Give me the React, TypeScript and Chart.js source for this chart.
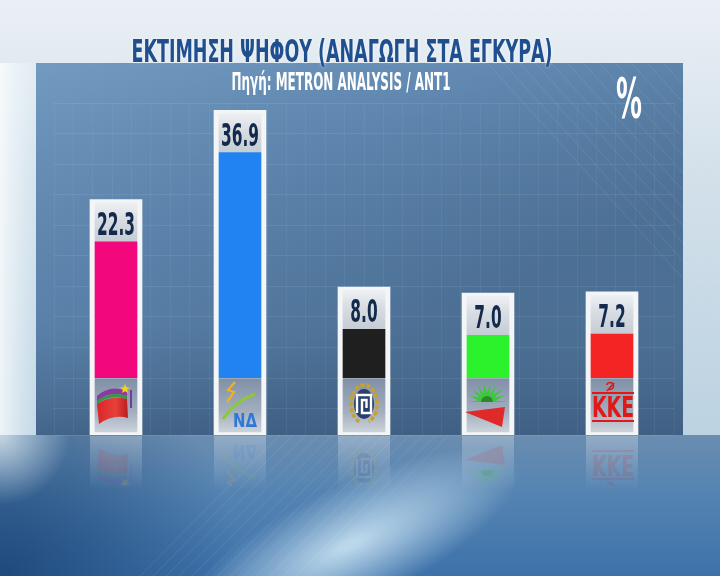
import React, { useEffect, useRef } from "react";
import { Chart, registerables } from "chart.js";

Chart.register(...registerables);

// ---------- data ----------
const parties = ["ΣΥΡΙΖΑ", "ΝΔ", "ΧΑ", "ΠΑΣΟΚ", "ΚΚΕ"];
const votes = [22.3, 36.9, 8.0, 7.0, 7.2];
const barColors = ["#f2077c", "#2183f2", "#1f1f1f", "#2cf22c", "#f42424"];
const titleText = "ΕΚΤΙΜΗΣΗ ΨΗΦΟΥ (ΑΝΑΓΩΓΗ ΣΤΑ ΕΓΚΥΡΑ)";
const subtitleText = "Πηγή: METRON ANALYSIS / ANT1";
const unitText = "%";

// ---------- layout constants ----------
const W = 720;
const H = 576;
const LABEL_ROOM = 6.9; // value units above each bar for its label
const LOGO_ROOM = 9.3; // value units below zero for the party logo
const Y_MAX = 45;
const PANEL = { l: 36, t: 63, r: 683, b: 435 };
const COND = "'Liberation Sans Narrow', 'DejaVu Sans Condensed', 'Roboto Condensed', 'Roboto', sans-serif";

function fitText(ctx: CanvasRenderingContext2D, text: string, cx: number, base: number, targetW: number, px: number, color: string, weight = "bold") {
  ctx.save();
  ctx.font = `${weight} ${px}px ${COND}`;
  const w = ctx.measureText(text).width;
  const s = targetW / w;
  ctx.translate(cx, base);
  ctx.scale(s, 1);
  ctx.fillStyle = color;
  ctx.textAlign = "center";
  ctx.textBaseline = "alphabetic";
  ctx.fillText(text, 0, 0);
  ctx.restore();
}

function star(ctx: CanvasRenderingContext2D, x: number, y: number, r: number) {
  ctx.beginPath();
  for (let k = 0; k < 10; k++) {
    const a = -Math.PI / 2 + (k * Math.PI) / 5;
    const rr = k % 2 === 0 ? r : r * 0.45;
    const px = x + Math.cos(a) * rr;
    const py = y + Math.sin(a) * rr;
    if (k === 0) ctx.moveTo(px, py);
    else ctx.lineTo(px, py);
  }
  ctx.closePath();
  ctx.fill();
}

function drawLogo(ctx: CanvasRenderingContext2D, i: number, cx: number) {
  ctx.save();
  if (i === 0) {
    // SYRIZA
    ctx.fillStyle = "#8a3aa0";
    ctx.beginPath();
    ctx.moveTo(cx - 19, 396);
    ctx.quadraticCurveTo(cx - 6, 384, cx + 11, 391);
    ctx.lineTo(cx + 11, 396);
    ctx.quadraticCurveTo(cx - 6, 390, cx - 19, 401);
    ctx.closePath();
    ctx.fill();
    ctx.fillStyle = "#2f9a4a";
    ctx.beginPath();
    ctx.moveTo(cx - 19, 401);
    ctx.quadraticCurveTo(cx - 6, 390, cx + 11, 396);
    ctx.lineTo(cx + 11, 399);
    ctx.quadraticCurveTo(cx - 6, 394, cx - 19, 404);
    ctx.closePath();
    ctx.fill();
    const g = ctx.createLinearGradient(cx - 19, 0, cx + 12, 0);
    g.addColorStop(0, "#d8262a");
    g.addColorStop(0.6, "#e8403a");
    g.addColorStop(1, "#b81e22");
    ctx.fillStyle = g;
    ctx.beginPath();
    ctx.moveTo(cx - 19, 404);
    ctx.quadraticCurveTo(cx - 6, 395, cx + 11, 399);
    ctx.lineTo(cx + 12, 418);
    ctx.quadraticCurveTo(cx - 3, 414, cx - 17, 424);
    ctx.closePath();
    ctx.fill();
    ctx.fillStyle = "#f4d21c";
    star(ctx, cx + 9, 389, 5);
    ctx.fillStyle = "#7a3a9a";
    ctx.fillRect(cx + 14, 390, 2, 18);
  } else if (i === 1) {
    // ND
    ctx.strokeStyle = "#f0b020";
    ctx.lineWidth = 2.2;
    ctx.beginPath();
    ctx.moveTo(cx - 5, 382);
    ctx.lineTo(cx - 12, 390);
    ctx.lineTo(cx - 6, 392);
    ctx.lineTo(cx - 13, 402);
    ctx.stroke();
    ctx.strokeStyle = "#8cc83c";
    ctx.lineWidth = 3;
    ctx.beginPath();
    ctx.moveTo(cx - 17, 419);
    ctx.quadraticCurveTo(cx - 5, 401, cx + 15, 394);
    ctx.stroke();
    fitText(ctx, "ΝΔ", cx + 5, 427, 24, 20, "#2f78d8");
  } else if (i === 2) {
    // Golden Dawn
    ctx.strokeStyle = "#c9a227";
    ctx.lineWidth = 3.5;
    ctx.setLineDash([4, 2]);
    ctx.beginPath();
    ctx.ellipse(cx, 404, 13, 19, 0, Math.PI * 0.62, Math.PI * 2.38);
    ctx.stroke();
    ctx.setLineDash([]);
    ctx.fillStyle = "#2a3f6a";
    ctx.beginPath();
    ctx.ellipse(cx, 404, 10, 15, 0, 0, Math.PI * 2);
    ctx.fill();
    ctx.strokeStyle = "#ffffff";
    ctx.lineWidth = 2.4;
    ctx.beginPath();
    ctx.moveTo(cx - 7, 413);
    ctx.lineTo(cx - 7, 395);
    ctx.lineTo(cx + 7, 395);
    ctx.lineTo(cx + 7, 413);
    ctx.lineTo(cx - 2, 413);
    ctx.lineTo(cx - 2, 400);
    ctx.lineTo(cx + 2.5, 400);
    ctx.lineTo(cx + 2.5, 408);
    ctx.stroke();
  } else if (i === 3) {
    // PASOK
    ctx.fillStyle = "#3cc83a";
    ctx.beginPath();
    const bx = cx - 1;
    const by = 402;
    const n = 9;
    for (let k = 0; k <= n * 2; k++) {
      const a = Math.PI + (k * Math.PI) / (n * 2);
      const r = k % 2 === 0 ? 19 : 9;
      const px = bx + Math.cos(a) * r;
      const py = by + Math.sin(a) * r;
      if (k === 0) ctx.moveTo(px, py);
      else ctx.lineTo(px, py);
    }
    ctx.closePath();
    ctx.fill();
    ctx.fillStyle = "#2a8a2a";
    ctx.beginPath();
    ctx.arc(bx, by, 6, Math.PI, 0);
    ctx.fill();
    ctx.fillStyle = "#e02a2a";
    ctx.beginPath();
    ctx.moveTo(cx - 23, 412);
    ctx.lineTo(cx + 17, 407);
    ctx.lineTo(cx + 14, 427);
    ctx.closePath();
    ctx.fill();
  } else {
    // KKE
    ctx.strokeStyle = "#e01818";
    ctx.lineWidth = 1.6;
    ctx.beginPath();
    ctx.arc(cx - 2, 386, 3.5, Math.PI * 1.1, Math.PI * 2.6);
    ctx.stroke();
    ctx.beginPath();
    ctx.moveTo(cx - 5, 391);
    ctx.lineTo(cx + 2, 383);
    ctx.stroke();
    ctx.fillStyle = "#e01818";
    ctx.fillRect(cx - 20, 392, 42, 2);
    fitText(ctx, "ΚΚΕ", cx + 1, 417, 42, 28, "#e01818");
    ctx.fillRect(cx - 20, 420, 42, 2);
  }
  ctx.restore();
}

const bgPlugin = {
  id: "bg",
  beforeDraw(chart: any) {
    const ctx: CanvasRenderingContext2D = chart.ctx;
    ctx.save();
    // sky / outer
    let g = ctx.createLinearGradient(0, 0, 0, PANEL.b);
    g.addColorStop(0, "#eaf0f5");
    g.addColorStop(0.4, "#d3e0ea");
    g.addColorStop(1, "#bcd2e2");
    ctx.fillStyle = g;
    ctx.fillRect(0, 0, W, PANEL.b);
    // left glow
    g = ctx.createLinearGradient(0, 0, PANEL.l, 0);
    g.addColorStop(0, "rgba(255,255,255,0.75)");
    g.addColorStop(1, "rgba(230,245,250,0.2)");
    ctx.fillStyle = g;
    ctx.fillRect(0, PANEL.t, PANEL.l, PANEL.b - PANEL.t);
    // floor
    g = ctx.createLinearGradient(0, PANEL.b, 0, H);
    g.addColorStop(0, "#6a8db0");
    g.addColorStop(0.4, "#5584b2");
    g.addColorStop(1, "#3d72aa");
    ctx.fillStyle = g;
    ctx.fillRect(0, PANEL.b, W, H - PANEL.b);
    // floor: dark bottom-left
    let rg = ctx.createRadialGradient(0, 576, 10, 0, 576, 240);
    rg.addColorStop(0, "rgba(25,65,115,0.8)");
    rg.addColorStop(1, "rgba(25,65,115,0)");
    ctx.fillStyle = rg;
    ctx.fillRect(0, PANEL.b, W, H - PANEL.b);
    // floor: light glow centre-bottom
    ctx.save();
    ctx.translate(350, 545);
    ctx.rotate(-0.45);
    ctx.scale(2.2, 0.7);
    rg = ctx.createRadialGradient(0, 0, 5, 0, 0, 85);
    rg.addColorStop(0, "rgba(215,238,250,0.8)");
    rg.addColorStop(1, "rgba(215,238,250,0)");
    ctx.fillStyle = rg;
    ctx.fillRect(-200, -150, 400, 300);
    ctx.restore();
    // floor left glow below panel edge
    rg = ctx.createRadialGradient(0, PANEL.b, 5, 0, PANEL.b, 70);
    rg.addColorStop(0, "rgba(235,248,252,0.7)");
    rg.addColorStop(1, "rgba(235,248,252,0)");
    ctx.fillStyle = rg;
    ctx.fillRect(0, PANEL.b, 80, 80);

    // panel
    g = ctx.createLinearGradient(PANEL.l, PANEL.t, PANEL.l + 200, PANEL.b);
    g.addColorStop(0, "#7198bd");
    g.addColorStop(0.5, "#5b83ab");
    g.addColorStop(1, "#4c6f94");
    ctx.fillStyle = g;
    ctx.fillRect(PANEL.l, PANEL.t, PANEL.r - PANEL.l, PANEL.b - PANEL.t);
    g = ctx.createLinearGradient(0, PANEL.t, 0, PANEL.b);
    g.addColorStop(0, "rgba(120,160,200,0.25)");
    g.addColorStop(0.7, "rgba(60,95,135,0)");
    g.addColorStop(1, "rgba(40,65,100,0.35)");
    ctx.fillStyle = g;
    ctx.fillRect(PANEL.l, PANEL.t, PANEL.r - PANEL.l, PANEL.b - PANEL.t);

    // diagonal streaks
    ctx.strokeStyle = "rgba(255,255,255,0.09)";
    ctx.lineWidth = 1;
    for (let k = 0; k < 14; k++) {
      const x0 = 430 + k * 16;
      ctx.beginPath();
      ctx.moveTo(x0, 0);
      ctx.lineTo(x0 + 300, 330);
      ctx.stroke();
    }
    for (let k = 0; k < 14; k++) {
      const x0 = 140 + k * 13;
      ctx.beginPath();
      ctx.moveTo(x0 + 140, PANEL.b);
      ctx.lineTo(x0, H);
      ctx.stroke();
    }
    ctx.restore();
  },
};

const overlayPlugin = {
  id: "overlay",
  afterDatasetsDraw(chart: any) {
    const ctx: CanvasRenderingContext2D = chart.ctx;
    const y = chart.scales.y;
    const boxMeta = chart.getDatasetMeta(0);
    const valMeta = chart.getDatasetMeta(3);
    ctx.save();
    // reflections
    boxMeta.data.forEach((el: any, i: number) => {
      const x = el.x;
      const g = ctx.createLinearGradient(0, PANEL.b, 0, PANEL.b + 55);
      g.addColorStop(0, "rgba(255,255,255,0.28)");
      g.addColorStop(1, "rgba(255,255,255,0)");
      ctx.fillStyle = g;
      ctx.fillRect(x - 26, PANEL.b + 1, 52, 55);
      ctx.save();
      ctx.beginPath();
      ctx.rect(x - 26, PANEL.b + 1, 52, 50);
      ctx.clip();
      ctx.globalAlpha = 0.13;
      ctx.translate(0, PANEL.b * 2 + 2);
      ctx.scale(1, -1);
      drawLogo(ctx, i, x);
      ctx.restore();
    });
    // value labels + logos
    ctx.font = `bold 32px ${COND}`;
    const scaleX = 38 / ctx.measureText("22.3").width;
    valMeta.data.forEach((el: any, i: number) => {
      const top = y.getPixelForValue(votes[i]);
      const txt = votes[i].toFixed(1);
      ctx.save();
      ctx.font = `bold 32px ${COND}`;
      ctx.translate(el.x, top - 7);
      ctx.scale(scaleX, 1);
      ctx.fillStyle = "#142a4c";
      ctx.textAlign = "center";
      ctx.fillText(txt, 0, 0);
      ctx.restore();
      drawLogo(ctx, i, el.x);
    });
    // titles
    ctx.save();
    ctx.shadowColor = "rgba(255,255,255,0.7)";
    ctx.shadowBlur = 3;
    fitText(ctx, titleText, 342, 62, 421, 32, "#1f4f8f");
    ctx.restore();
    fitText(ctx, subtitleText, 341, 90, 219, 25, "#ffffff");
    fitText(ctx, unitText, 629, 117, 26, 55, "#ffffff");
    ctx.restore();
  },
};

function safeGrad(ctx: CanvasRenderingContext2D, t: number, b: number, stops: [number, string][], fallback: string) {
  if (!Number.isFinite(t) || !Number.isFinite(b)) return fallback;
  const g = ctx.createLinearGradient(0, t, 0, b);
  stops.forEach(([o, c]) => g.addColorStop(o, c));
  return g;
}

export default function App() {
  const ref = useRef<HTMLCanvasElement | null>(null);
  useEffect(() => {
    document.body.style.margin = "0";
    const canvas = ref.current;
    if (!canvas) return;
    const labelGrad = (c: any) => {
      const chart = c.chart;
      const ys = chart.scales?.y;
      if (!ys || c.type !== "data" || c.dataIndex === undefined) return "#d9dde2";
      const v = votes[c.dataIndex];
      return safeGrad(
        chart.ctx,
        ys.getPixelForValue(v + LABEL_ROOM),
        ys.getPixelForValue(v),
        [
          [0, "#f2f4f6"],
          [0.5, "#d7dce2"],
          [1, "#c6ccd4"],
        ],
        "#d9dde2"
      );
    };
    const logoGrad = (c: any) => {
      const chart = c.chart;
      const ys = chart.scales?.y;
      if (!ys) return "#98a6b7";
      return safeGrad(
        chart.ctx,
        ys.getPixelForValue(0),
        ys.getPixelForValue(-LOGO_ROOM),
        [
          [0, "#8090a6"],
          [0.6, "#a3afbf"],
          [1, "#d2d8df"],
        ],
        "#98a6b7"
      );
    };
    const chart = new Chart(canvas, {
      type: "bar",
      data: {
        labels: parties,
        datasets: [
          {
            label: "box",
            data: votes.map((v) => [-LOGO_ROOM, v + LABEL_ROOM]),
            backgroundColor: "#f3f5f7",
            borderWidth: 0,
            barThickness: 52,
            grouped: false,
            order: 4,
          },
          {
            label: "labelArea",
            data: votes.map((v) => [v, v + LABEL_ROOM - 0.5]),
            backgroundColor: labelGrad,
            borderWidth: 0,
            barThickness: 42,
            grouped: false,
            order: 3,
          },
          {
            label: "logoArea",
            data: votes.map(() => [-LOGO_ROOM + 0.5, 0]),
            backgroundColor: logoGrad,
            borderWidth: 0,
            barThickness: 42,
            grouped: false,
            order: 2,
          },
          {
            label: "Ψήφοι %",
            data: votes.map((v) => [0, v]),
            backgroundColor: barColors,
            borderWidth: 0,
            barThickness: 42,
            grouped: false,
            order: 1,
          },
        ],
      } as any,
      options: {
        responsive: false,
        animation: false,
        devicePixelRatio: 1,
        layout: { padding: { left: 54, right: 46, top: 103, bottom: 141 } },
        plugins: { legend: { display: false }, tooltip: { enabled: false }, title: { display: false } },
        scales: {
          x: { display: false, offset: true },
          x2: {
            type: "linear",
            position: "bottom",
            min: 0,
            max: 31,
            ticks: { display: false, stepSize: 1 },
            grid: { color: "rgba(255,255,255,0.05)", drawTicks: false },
            border: { display: false },
            afterFit: (s: any) => {
              s.height = 0;
            },
          },
          y: {
            min: -LOGO_ROOM,
            max: Y_MAX,
            ticks: { display: false, stepSize: 5 },
            grid: { color: "rgba(255,255,255,0.08)", drawTicks: false },
            border: { display: false },
            afterFit: (s: any) => {
              s.width = 0;
            },
          },
        },
      } as any,
      plugins: [bgPlugin, overlayPlugin],
    });
    return () => chart.destroy();
  }, []);
  return (
    <div style={{ width: W, height: H }}>
      <canvas ref={ref} width={W} height={H} style={{ display: "block" }} />
    </div>
  );
}
